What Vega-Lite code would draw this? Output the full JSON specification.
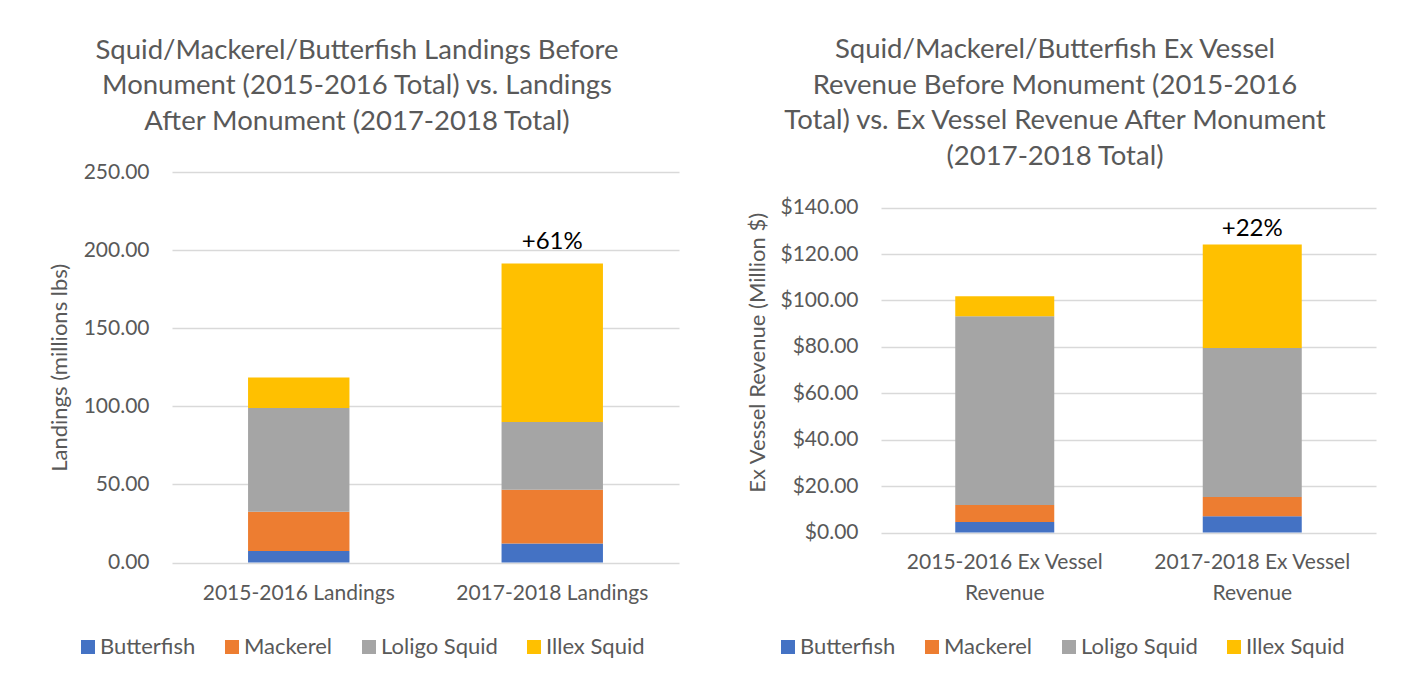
{
  "$schema": "https://vega.github.io/schema/vega-lite/v6.json",
  "background": "white",
  "padding": {"left": 48, "top": 36, "right": 5, "bottom": 5},
  "config": {
    "font": "Lato",
    "view": {"stroke": null},
    "axis": {"labelColor": "#595959", "titleColor": "#595959", "labelFontSize": 21, "titleFontSize": 22, "titleFontWeight": "normal", "gridColor": "#D9D9D9", "gridWidth": 1.3, "domain": false, "ticks": false},
    "title": {"color": "#595959", "fontSize": 27.5, "fontWeight": "normal", "lineHeight": 35.5, "anchor": "middle", "frame": "group"},
    "legend": {"labelColor": "#595959", "labelFontSize": 22, "symbolType": "square", "symbolSize": 196, "symbolStrokeWidth": 0, "labelOffset": 1, "columnPadding": 25, "padding": 0, "direction": "horizontal", "orient": "none", "columns": 4, "labelLimit": 0}
  },
  "datasets": {
    "landings": [
      {"period": "2015-2016 Landings", "species": "Butterfish", "rank": 1, "value": 7.4},
      {"period": "2015-2016 Landings", "species": "Mackerel", "rank": 2, "value": 25.2},
      {"period": "2015-2016 Landings", "species": "Loligo Squid", "rank": 3, "value": 66.3},
      {"period": "2015-2016 Landings", "species": "Illex Squid", "rank": 4, "value": 19.5},
      {"period": "2017-2018 Landings", "species": "Butterfish", "rank": 1, "value": 12.2},
      {"period": "2017-2018 Landings", "species": "Mackerel", "rank": 2, "value": 34.5},
      {"period": "2017-2018 Landings", "species": "Loligo Squid", "rank": 3, "value": 43.3},
      {"period": "2017-2018 Landings", "species": "Illex Squid", "rank": 4, "value": 101.4}
    ],
    "landingsNote": [
      {"period": "2017-2018 Landings", "total": 191.4, "note": "+61%"}
    ],
    "revenue": [
      {"period": "2015-2016 Ex Vessel Revenue", "species": "Butterfish", "rank": 1, "value": 4.6},
      {"period": "2015-2016 Ex Vessel Revenue", "species": "Mackerel", "rank": 2, "value": 7.3},
      {"period": "2015-2016 Ex Vessel Revenue", "species": "Loligo Squid", "rank": 3, "value": 81.3},
      {"period": "2015-2016 Ex Vessel Revenue", "species": "Illex Squid", "rank": 4, "value": 8.6},
      {"period": "2017-2018  Ex Vessel Revenue", "species": "Butterfish", "rank": 1, "value": 7.0},
      {"period": "2017-2018  Ex Vessel Revenue", "species": "Mackerel", "rank": 2, "value": 8.3},
      {"period": "2017-2018  Ex Vessel Revenue", "species": "Loligo Squid", "rank": 3, "value": 64.2},
      {"period": "2017-2018  Ex Vessel Revenue", "species": "Illex Squid", "rank": 4, "value": 44.6}
    ],
    "revenueNote": [
      {"period": "2017-2018  Ex Vessel Revenue", "total": 124.1, "note": "+22%"}
    ]
  },
  "resolve": {"scale": {"color": "independent"}, "legend": {"color": "independent"}},
  "spacing": 67,
  "hconcat": [
    {
      "width": 507,
      "height": 390.6,
      "title": {"text": ["Squid/Mackerel/Butterfish Landings Before", "Monument (2015-2016 Total) vs. Landings", "After Monument (2017-2018 Total)"], "dx": -68.5, "offset": 26},
      "layer": [
        {
          "data": {"name": "landings"},
          "mark": {"type": "bar"},
          "encoding": {
            "x": {"field": "period", "type": "nominal", "sort": null, "title": null, "scale": {"paddingInner": 0.6, "paddingOuter": 0.3}, "axis": {"labelAngle": 0, "labelPadding": 20, "labelLimit": 0, "grid": false}},
            "y": {"field": "value", "type": "quantitative", "stack": "zero", "title": "Landings (millions lbs)", "scale": {"domain": [0, 250], "nice": false}, "axis": {"values": [0, 50, 100, 150, 200, 250], "format": ".2f", "labelPadding": 23, "titlePadding": 12}},
            "order": {"field": "rank", "type": "quantitative", "sort": "ascending"},
            "color": {"field": "species", "type": "nominal", "sort": ["Butterfish", "Mackerel", "Loligo Squid", "Illex Squid"], "scale": {"domain": ["Butterfish", "Mackerel", "Loligo Squid", "Illex Squid"], "range": ["#4472C4", "#ED7D31", "#A5A5A5", "#FFC000"]}, "legend": {"title": null, "legendX": -95, "legendY": 464}}
          }
        },
        {
          "data": {"name": "landingsNote"},
          "mark": {"type": "text", "fontSize": 24, "color": "#000000", "baseline": "alphabetic", "dy": -15},
          "encoding": {
            "x": {"field": "period", "type": "nominal", "sort": null},
            "y": {"field": "total", "type": "quantitative"},
            "text": {"field": "note"}
          }
        }
      ]
    },
    {
      "width": 495,
      "height": 360.6,
      "title": {"text": ["Squid/Mackerel/Butterfish Ex Vessel", "Revenue Before Monument (2015-2016", "Total) vs. Ex Vessel Revenue After Monument", "(2017-2018 Total)"], "dx": -73.5, "offset": 2},
      "layer": [
        {
          "data": {"name": "revenue"},
          "mark": {"type": "bar"},
          "encoding": {
            "x": {"field": "period", "type": "nominal", "sort": null, "title": null, "scale": {"paddingInner": 0.6, "paddingOuter": 0.3}, "axis": {"labelAngle": 0, "labelPadding": 19, "labelLimit": 0, "grid": false, "labelLineHeight": 30.5, "labelExpr": "[replace(datum.label, ' Revenue', ''), 'Revenue']"}},
            "y": {"field": "value", "type": "quantitative", "stack": "zero", "title": "Ex Vessel Revenue (Million $)", "scale": {"domain": [0, 155.34], "nice": false}, "axis": {"values": [0, 20, 40, 60, 80, 100, 120, 140], "format": "$.2f", "labelPadding": 23, "titlePadding": 10}},
            "order": {"field": "rank", "type": "quantitative", "sort": "ascending"},
            "color": {"field": "species", "type": "nominal", "sort": ["Butterfish", "Mackerel", "Loligo Squid", "Illex Squid"], "scale": {"domain": ["Butterfish", "Mackerel", "Loligo Squid", "Illex Squid"], "range": ["#4472C4", "#ED7D31", "#A5A5A5", "#FFC000"]}, "legend": {"title": null, "legendX": -104, "legendY": 464}}
          }
        },
        {
          "data": {"name": "revenueNote"},
          "mark": {"type": "text", "fontSize": 24, "color": "#000000", "baseline": "alphabetic", "dy": -9},
          "encoding": {
            "x": {"field": "period", "type": "nominal", "sort": null},
            "y": {"field": "total", "type": "quantitative"},
            "text": {"field": "note"}
          }
        }
      ]
    }
  ]
}
